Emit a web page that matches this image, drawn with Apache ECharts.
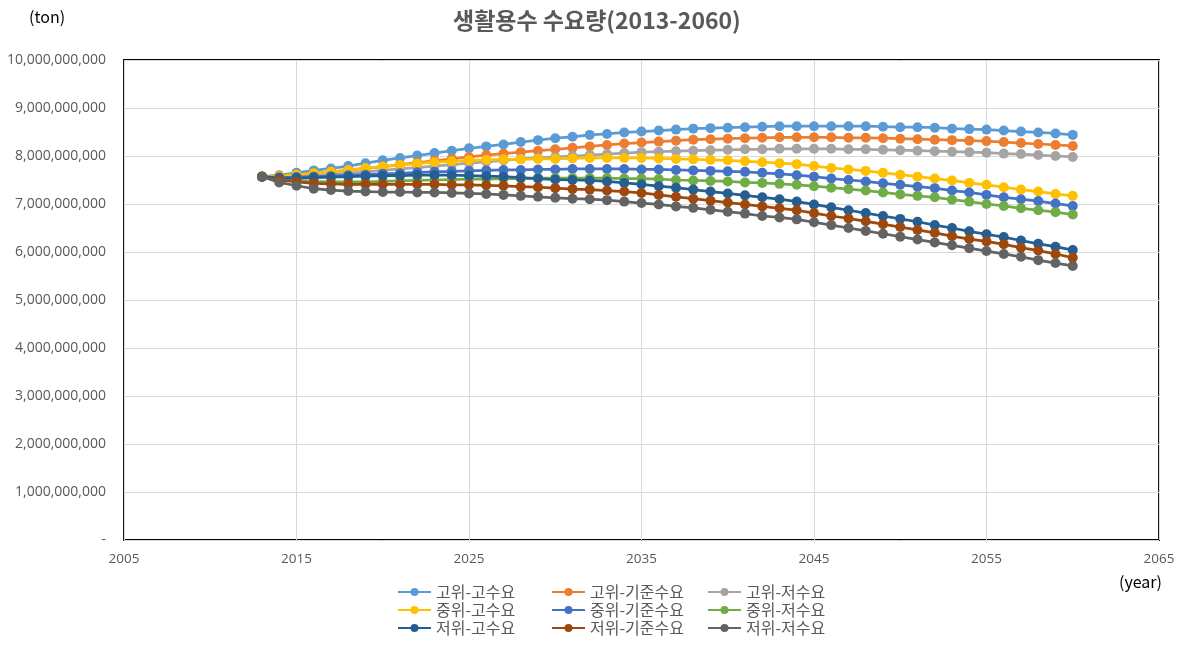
<!DOCTYPE html>
<html>
<head>
<meta charset="utf-8">
<script src="https://cdn.jsdelivr.net/npm/echarts@6/dist/echarts.min.js"></script>
<style>
html,body{margin:0;padding:0;background:#fff;}
#chart{width:1181px;height:646px;}
</style>
</head>
<body>
<div id="chart"></div>
<script>
// ---- DATA (values in billions of tons) ----
const years = [2013,2014,2015,2016,2017,2018,2019,2020,2021,2022,
  2023,2024,2025,2026,2027,2028,2029,2030,2031,2032,
  2033,2034,2035,2036,2037,2038,2039,2040,2041,2042,
  2043,2044,2045,2046,2047,2048,2049,2050,2051,2052,
  2053,2054,2055,2056,2057,2058,2059,2060];

const seriesNames = ['고위-고수요','고위-기준수요','고위-저수요','중위-고수요','중위-기준수요','중위-저수요','저위-고수요','저위-기준수요','저위-저수요'];

const highHigh = [7.57,7.60,7.65,7.70,7.74,7.79,7.85,7.91,7.96,8.01,
  8.06,8.11,8.16,8.20,8.24,8.29,8.33,8.37,8.40,8.44,
  8.46,8.49,8.51,8.53,8.55,8.57,8.58,8.59,8.60,8.61,
  8.62,8.62,8.62,8.62,8.62,8.62,8.61,8.60,8.60,8.59,
  8.57,8.56,8.55,8.53,8.51,8.49,8.47,8.44];
const highBase = [7.57,7.58,7.61,7.64,7.67,7.70,7.74,7.78,7.82,7.86,
  7.90,7.94,7.98,8.02,8.05,8.08,8.11,8.14,8.17,8.20,
  8.23,8.26,8.28,8.30,8.32,8.34,8.35,8.36,8.37,8.38,
  8.39,8.39,8.39,8.39,8.38,8.38,8.37,8.36,8.35,8.34,
  8.33,8.32,8.31,8.29,8.27,8.25,8.23,8.21];
const highLow = [7.57,7.56,7.57,7.59,7.61,7.64,7.67,7.70,7.73,7.76,
  7.79,7.82,7.85,7.88,7.91,7.94,7.96,7.98,8.00,8.02,
  8.04,8.06,8.08,8.09,8.10,8.11,8.12,8.13,8.14,8.14,
  8.15,8.15,8.15,8.15,8.14,8.14,8.13,8.12,8.11,8.10,
  8.09,8.08,8.07,8.05,8.04,8.02,8.00,7.98];
const midHigh = [7.57,7.58,7.61,7.64,7.67,7.71,7.75,7.78,7.81,7.84,
  7.87,7.89,7.91,7.92,7.93,7.93,7.94,7.94,7.95,7.96,
  7.96,7.96,7.96,7.95,7.94,7.93,7.92,7.91,7.89,7.87,
  7.85,7.83,7.79,7.75,7.72,7.69,7.65,7.61,7.57,7.53,
  7.49,7.44,7.40,7.35,7.30,7.26,7.21,7.17];
const midBase = [7.57,7.55,7.56,7.57,7.58,7.60,7.61,7.63,7.64,7.66,
  7.67,7.68,7.69,7.70,7.71,7.71,7.72,7.72,7.73,7.73,
  7.73,7.73,7.72,7.72,7.71,7.70,7.69,7.68,7.67,7.65,
  7.63,7.60,7.57,7.53,7.50,7.47,7.43,7.40,7.36,7.33,
  7.28,7.24,7.19,7.14,7.10,7.06,7.01,6.96];
const midLow = [7.57,7.52,7.49,7.47,7.46,7.46,7.46,7.47,7.48,7.49,
  7.50,7.51,7.52,7.52,7.53,7.53,7.54,7.54,7.54,7.54,
  7.54,7.53,7.53,7.52,7.50,7.49,7.48,7.47,7.45,7.44,
  7.42,7.40,7.37,7.34,7.31,7.28,7.24,7.20,7.17,7.14,
  7.09,7.05,7.00,6.96,6.91,6.87,6.83,6.78];
const lowHigh = [7.57,7.54,7.54,7.55,7.56,7.57,7.58,7.59,7.59,7.60,
  7.60,7.60,7.59,7.58,7.57,7.55,7.53,7.51,7.50,7.49,
  7.47,7.44,7.41,7.37,7.34,7.30,7.26,7.22,7.18,7.14,
  7.10,7.05,6.99,6.93,6.87,6.81,6.75,6.69,6.63,6.56,
  6.50,6.43,6.37,6.31,6.24,6.17,6.11,6.04];
const lowBase = [7.57,7.50,7.46,7.43,7.42,7.41,7.41,7.41,7.41,7.41,
  7.41,7.40,7.40,7.39,7.38,7.36,7.35,7.33,7.31,7.30,
  7.28,7.26,7.23,7.19,7.15,7.11,7.07,7.03,6.99,6.95,
  6.91,6.87,6.81,6.75,6.70,6.64,6.58,6.52,6.46,6.40,
  6.33,6.27,6.22,6.16,6.09,6.03,5.96,5.88];
const lowLow = [7.57,7.45,7.38,7.32,7.29,7.27,7.26,7.25,7.25,7.24,
  7.24,7.23,7.22,7.21,7.19,7.17,7.15,7.13,7.11,7.10,
  7.08,7.05,7.02,6.99,6.95,6.92,6.88,6.84,6.80,6.75,
  6.72,6.68,6.62,6.56,6.50,6.44,6.38,6.32,6.26,6.20,
  6.14,6.08,6.02,5.96,5.90,5.83,5.77,5.71];

const UNIT = 1e9;
const allValues = [highHigh, highBase, highLow, midHigh, midBase, midLow, lowHigh, lowBase, lowLow];
const colors = ['#5B9BD5','#ED7D31','#A5A5A5','#FFC000','#4472C4','#70AD47','#255E91','#9E480E','#636363'];

const chart = echarts.init(document.getElementById('chart'), null, {renderer:'canvas'});

function fmtNum(v){
  if (v === 0) return '-';
  return String(Math.round(v)).replace(/\B(?=(\d{3})+(?!\d))/g, ',');
}

const series = seriesNames.map((name, k) => ({
  name: name,
  type: 'line',
  data: years.map((y, i) => [y, allValues[k][i] * UNIT]),
  symbol: 'circle',
  symbolSize: 10,
  lineStyle: {width: 2.75, color: colors[k]},
  itemStyle: {color: colors[k]},
  emphasis: {disabled: true},
  animation: false
}));

const FONT = "'Noto Sans CJK KR', sans-serif";
const legendBase = {
  orient: 'vertical',
  top: 583,
  height: 63,
  padding: 0,
  itemWidth: 33,
  itemHeight: 10,
  itemGap: 0,
  textStyle: {fontSize: 16, color: '#595959', fontFamily: FONT, lineHeight: 18},
  selectedMode: false
};

const option = {
  backgroundColor: '#fff',
  color: colors,
  animation: false,
  title: {
    text: '생활용수 수요량(2013-2060)',
    left: 448,
    top: 4,
    textStyle: {fontSize: 23, fontWeight: 'bold', color: '#595959', fontFamily: FONT}
  },
  legend: [
    Object.assign({}, legendBase, {left: 397, data: [seriesNames[0], seriesNames[3], seriesNames[6]]}),
    Object.assign({}, legendBase, {left: 551, data: [seriesNames[1], seriesNames[4], seriesNames[7]]}),
    Object.assign({}, legendBase, {left: 707, data: [seriesNames[2], seriesNames[5], seriesNames[8]]})
  ],
  graphic: [
    {type: 'text', left: 29, top: 9, style: {text: '(ton)', fontSize: 16, fill: '#000', fontFamily: FONT}},
    {type: 'text', left: 1119, top: 574, style: {text: '(year)', fontSize: 16, fill: '#000', fontFamily: FONT}}
  ],
  grid: {
    left: 124, right: 22, top: 60, bottom: 106,
    show: true, borderColor: '#000', borderWidth: 1.8, backgroundColor: '#fff'
  },
  xAxis: {
    type: 'value', min: 2005, max: 2065, interval: 10,
    axisLine: {show: false},
    axisTick: {show: false},
    splitLine: {show: true, lineStyle: {color: '#d9d9d9', width: 1}},
    axisLabel: {margin: 12, fontSize: 13.5, color: '#595959', fontFamily: "'Open Sans', sans-serif", formatter: v => String(v)}
  },
  yAxis: {
    type: 'value', min: 0, max: 10 * UNIT, interval: 1 * UNIT,
    axisLine: {show: false},
    axisTick: {show: false},
    splitLine: {show: true, lineStyle: {color: '#d9d9d9', width: 1}},
    axisLabel: {margin: 18, fontSize: 14, color: '#595959', fontFamily: "'Open Sans', sans-serif", formatter: fmtNum}
  },
  series: series
};
chart.setOption(option);
</script>
</body>
</html>
